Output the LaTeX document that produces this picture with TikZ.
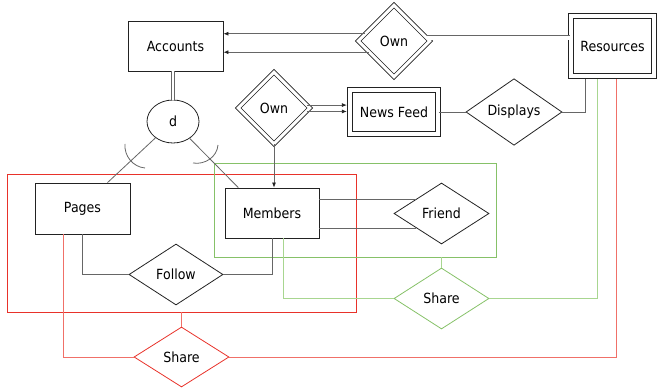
\documentclass[tikz,border=0pt]{standalone}
\usepackage{fontspec}
\setmainfont{DejaVu Sans}[FakeStretch=0.9]
\usetikzlibrary{shapes.geometric,arrows.meta,calc}
\definecolor{boxline}{HTML}{222222}
\definecolor{conn}{HTML}{666666}
\definecolor{rrect}{HTML}{E8322A}
\definecolor{rline}{HTML}{F07068}
\definecolor{grect}{HTML}{86C168}
\definecolor{gline}{HTML}{A8D690}
\begin{document}
\begin{tikzpicture}[x=1pt,y=-1pt,font=\fontsize{14}{16}\selectfont,
  every node/.style={inner sep=0pt},
  ent/.style={draw=boxline,line width=0.8pt,rectangle},
  went/.style={draw=boxline,line width=0.8pt,rectangle,double,double distance=4pt},
  rel/.style={draw=boxline,line width=0.8pt,diamond},
  wrel/.style={draw=boxline,line width=0.8pt,diamond,double,double distance=3pt},
  con/.style={draw=conn,line width=0.8pt},
  arr/.style={con,-{Latex[length=5pt,width=4pt,color=boxline]}},
  gcon/.style={draw=gline,line width=0.8pt},
  rcon/.style={draw=rline,line width=0.8pt},
  aggbox/.style={line width=0.8pt,rectangle}]
\useasboundingbox (0,0) rectangle (658,390);
% aggregation boxes
\node[aggbox,draw=rrect,minimum width=349pt,minimum height=138pt] (aggR) at (181.5,243) {};
\node[aggbox,draw=grect,minimum width=282pt,minimum height=94pt] (aggG) at (355,210) {};
% entities and relationships
\node[ent,minimum width=95pt,minimum height=50pt] (acc) at (175.5,46) {Accounts};
\node[wrel,minimum width=72pt,minimum height=72pt] (ownA) at (394,41) {Own};
\node[went,minimum width=83.4pt,minimum height=60.4pt] (res) at (612.5,46) {Resources};
\node[wrel,minimum width=72pt,minimum height=72pt] (ownB) at (274,108) {Own};
\node[went,minimum width=88.4pt,minimum height=44.4pt] (nf) at (394,112) {\raisebox{-3pt}{News Feed}};
\node[rel,minimum width=96pt,minimum height=61pt] (disp) at (514,112) {Displays};
\node[ellipse,draw=boxline,line width=0.8pt,minimum width=52pt,minimum height=43pt] (d) at (173,121.5) {d};
\node[ent,minimum width=95pt,minimum height=51pt] (pages) at (82.5,208.5) {Pages\hspace{10pt}};
\node[ent,minimum width=94pt,minimum height=50pt] (mem) at (272,213) {Members\hspace{8pt}};
\node[rel,minimum width=94pt,minimum height=61pt] (follow) at (176,274.5) {Follow};
\node[rel,minimum width=95pt,minimum height=61pt] (friend) at (441.5,213.5) {Friend};
\node[rel,draw=grect,minimum width=95pt,minimum height=61pt] (shareG) at (441.5,298.5) {Share};
\node[rel,draw=rrect,minimum width=95pt,minimum height=60pt] (shareR) at (181.5,357) {Share};
% connectors
\draw[arr] (ownA.166) -- (ownA.166 -| acc.east);
\draw[arr] (ownA.204) -- (ownA.204 -| acc.east);
\draw[con,double,double distance=4pt] (ownA.6) -- (ownA.6 -| res.west);
\draw[arr,shorten >=2.5pt] (ownB.5) -- (ownB.5 -| nf.west);
\draw[arr,shorten >=2.5pt] (ownB.-6) -- (ownB.-6 -| nf.west);
\draw[arr] (ownB.south) -- (ownB.south |- mem.north);
\draw[con] (nf.east) -- (disp.west);
\draw[con,shorten >=2.8pt] (disp.east) -| ($(res.south)+(-27.5,0)$);
\draw[con,double,double distance=2.5pt] (d.north |- acc.south) -- (d.north);
\draw[con] (d) -- (pages.46);
\draw[con] (d) -- (mem.143);
\draw[con] (125,144) .. controls (124,156) and (133,167) .. (145,168);
\draw[con] (218,145) .. controls (217,157) and (205,165) .. (193,163);
\draw[con] (pages.south) |- (follow.west);
\draw[con] (follow.east) -| (mem.south);
\draw[con] (friend.150) -- (friend.150 -| mem.east);
\draw[con] (friend.210) -- (friend.210 -| mem.east);
\draw[gcon] (shareG.north |- aggG.south) -- (shareG.north);
\draw[gcon] ($(mem.south)+(11,0)$) |- (shareG.west);
\draw[gcon,shorten >=2.8pt] (shareG.east) -| ($(res.south)+(-15.5,0)$);
\draw[rcon] (aggR.south) -- (shareR.north);
\draw[rcon] ($(pages.south)+(-19.5,0)$) |- (shareR.west);
\draw[rcon,shorten >=2.8pt] (shareR.east) -| ($(res.south)+(3.5,0)$);
\end{tikzpicture}
\end{document}
